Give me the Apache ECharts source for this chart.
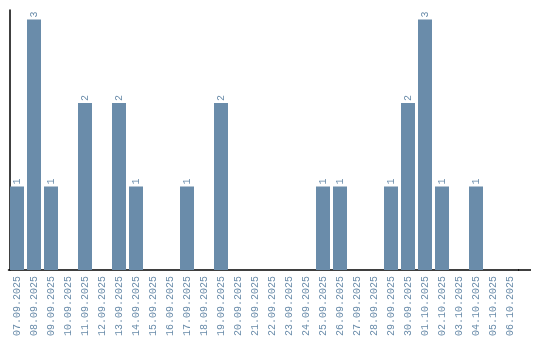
<!DOCTYPE html>
<html>
<head>
<meta charset="utf-8">
<script src="https://cdn.jsdelivr.net/npm/echarts@6/dist/echarts.min.js"></script>
<style>html,body{margin:0;padding:0;background:#fff}#c{width:540px;height:340px}</style>
</head>
<body>
<div id="c"></div>
<script>
const categories = ["07.09.2025","08.09.2025","09.09.2025","10.09.2025","11.09.2025","12.09.2025","13.09.2025","14.09.2025","15.09.2025","16.09.2025","17.09.2025","18.09.2025","19.09.2025","20.09.2025","21.09.2025","22.09.2025","23.09.2025","24.09.2025","25.09.2025","26.09.2025","27.09.2025","28.09.2025","29.09.2025","30.09.2025","01.10.2025","02.10.2025","03.10.2025","04.10.2025","05.10.2025","06.10.2025"];
const values = [1,3,1,0,2,0,2,1,0,0,1,0,2,0,0,0,0,0,1,1,0,0,1,2,3,1,0,1,0,0];

const barColor = '#6a8caa';
const textColor = '#6a8caa';
const font = 'Liberation Mono';

const chart = echarts.init(document.getElementById('c'), null, {renderer: 'canvas'});
chart.setOption({
  animation: false,
  grid: {left: 8.5, top: 10, width: 510, height: 260, containLabel: false},
  xAxis: {
    type: 'category',
    data: categories,
    boundaryGap: true,
    axisLine: {show: true, lineStyle: {color: '#000', width: 1.5}},
    axisTick: {show: false},
    axisLabel: {rotate: 90, margin: 6, color: textColor, fontFamily: font, fontSize: 10, interval: 0}
  },
  yAxis: {
    type: 'value',
    min: 0,
    max: 3.114,
    offset: -1.5,
    axisLine: {show: true, lineStyle: {color: '#000', width: 1.5}},
    axisTick: {show: false},
    axisLabel: {show: false},
    splitLine: {show: false}
  },
  graphic: [{
    type: 'line',
    z: 10,
    shape: {x1: 518, y1: 270, x2: 531, y2: 270},
    style: {stroke: '#000', lineWidth: 1.5}
  }],
  series: [{
    type: 'bar',
    data: values,
    barWidth: 14,
    itemStyle: {color: barColor},
    label: {
      show: true,
      position: 'top',
      rotate: 90,
      align: 'left',
      verticalAlign: 'middle',
      distance: 2,
      color: textColor,
      fontFamily: font,
      fontSize: 10,
      formatter: p => p.value ? String(p.value) : ''
    }
  }]
});
</script>
</body>
</html>
